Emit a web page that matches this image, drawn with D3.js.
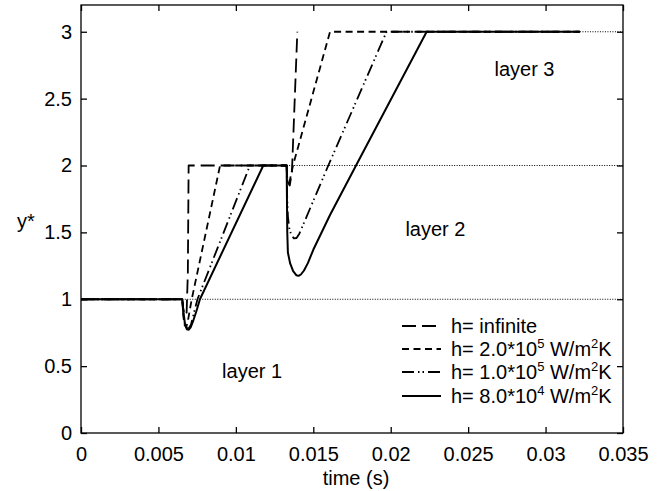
<!DOCTYPE html>
<html>
<head>
<meta charset="utf-8">
<script src="https://cdn.jsdelivr.net/npm/d3@7"></script>
<style>
  body { margin: 0; background: #fff; }
  svg { display: block; font-family: "Liberation Sans", Arial, sans-serif; }
  .axis path, .axis line { stroke: #000; stroke-width: 1.3; }
  .axis text { font-size: 20px; fill: #000; }
  .lbl { font-size: 20px; fill: #000; }
</style>
</head>
<body>
<div id="chart"></div>
<script>
const W = 667, H = 491;
const X0 = 81, X1 = 623, Y0 = 433, Y1 = 5;

const X_TICKS = [0, 0.005, 0.01, 0.015, 0.02, 0.025, 0.03, 0.035];
const X_LABELS = ["0", "0.005", "0.01", "0.015", "0.02", "0.025", "0.03", "0.035"];
const Y_TICKS = [0, 0.5, 1, 1.5, 2, 2.5, 3];
const Y_LABELS = ["0", "0.5", "1", "1.5", "2", "2.5", "3"];

// h = infinite
const tInf = [0, 0.00654, 0.00660, 0.00670, 0.00682, 0.00690, 0.00695, 0.01328, 0.01333, 0.01348, 0.01362, 0.01397];
const yInf = [1, 1, 0.93, 0.88, 0.90, 1.2, 2.0, 2.0, 1.88, 1.85, 1.95, 3.0];
// h = 2.0e5
const t2e5 = [0, 0.00654, 0.00660, 0.00668, 0.00680, 0.00692, 0.00715, 0.00898, 0.01328, 0.01332, 0.01345, 0.01369, 0.01608, 0.0322];
const y2e5 = [1, 1, 0.88, 0.81, 0.79, 0.85, 1.0, 2.0, 2.0, 1.9, 1.87, 2.0, 3.0, 3.0];
// h = 1.0e5
const t1e5 = [0, 0.00654, 0.00660, 0.00670, 0.00682, 0.00694, 0.00710, 0.00730, 0.00752, 0.01091, 0.01328, 0.01331, 0.01336, 0.01345, 0.01358, 0.01375, 0.01392, 0.01410, 0.01597, 0.01973, 0.0322];
const y1e5 = [1, 1, 0.91, 0.82, 0.785, 0.78, 0.81, 0.90, 1.0, 2.0, 2.0, 1.78, 1.62, 1.53, 1.48, 1.455, 1.458, 1.49, 2.0, 3.0, 3.0];
// h = 8.0e4
const t8e4 = [0, 0.00654, 0.00662, 0.00672, 0.00684, 0.00696, 0.00708, 0.00722, 0.00745, 0.00768, 0.01177, 0.01328, 0.01332, 0.01336, 0.01350, 0.01370, 0.01390, 0.01405, 0.01420, 0.01440, 0.01465, 0.01500, 0.01608, 0.01776, 0.02232, 0.03222];
const y8e4 = [1, 1, 0.9, 0.81, 0.775, 0.772, 0.79, 0.83, 0.91, 1.0, 2.0, 2.0, 1.5, 1.35, 1.27, 1.21, 1.18, 1.175, 1.185, 1.215, 1.27, 1.37, 1.63, 2.0, 3.0, 3.0];

// layer interfaces (dotted)
const interfaceY = [1, 2, 3];
const interfaceStart = [0.00654, 0.01328, 0.03222];

const layerNames = ["layer 1", "layer 2", "layer 3"];
const layerT = [0.00911, 0.02095, 0.02670];
const layerY = [0.41, 1.47, 2.67];

const series = [
  { name: "h= infinite", t: tInf, y: yInf, dash: "14,6" },
  { name: "2e5", t: t2e5, y: y2e5, dash: "7,4.5", mant: "2.0", exp: "5" },
  { name: "1e5", t: t1e5, y: y1e5, dash: "12,4,1.5,3,1.5,4", mant: "1.0", exp: "5" },
  { name: "8e4", t: t8e4, y: y8e4, dash: null, mant: "8.0", exp: "4" },
];

const svg = d3.select("#chart").append("svg").attr("width", W).attr("height", H);
const x = d3.scaleLinear().domain([0, 0.035]).range([X0, X1]);
const y = d3.scaleLinear().domain([0, 3.2]).range([Y0, Y1]);

// dotted interface lines
svg.append("g").selectAll("line").data(interfaceY).join("line")
  .attr("x1", (d, i) => x(interfaceStart[i])).attr("x2", x(0.035))
  .attr("y1", d => y(d)).attr("y2", d => y(d))
  .attr("stroke", "#000").attr("stroke-width", 1).attr("stroke-dasharray", "1,1.5");

const line = d3.line().x(d => x(d[0])).y(d => y(d[1]));
svg.append("g").selectAll("path").data(series).join("path")
  .attr("d", s => line(s.t.map((t, i) => [t, s.y[i]])))
  .attr("fill", "none").attr("stroke", "#000")
  .attr("stroke-width", s => s.dash ? 1.8 : 2)
  .attr("stroke-linejoin", "round")
  .attr("stroke-dasharray", s => s.dash);

// axes with inward ticks on all sides
svg.append("g").attr("class", "axis").attr("transform", `translate(0,${Y0})`)
  .call(d3.axisBottom(x).tickValues(X_TICKS).tickFormat((d, i) => X_LABELS[i]).tickSizeInner(-6).tickSizeOuter(0).tickPadding(14));
svg.append("g").attr("class", "axis").attr("transform", `translate(0,${Y1})`)
  .call(d3.axisTop(x).tickValues(X_TICKS).tickFormat("").tickSizeInner(-6).tickSizeOuter(0));
svg.append("g").attr("class", "axis").attr("transform", `translate(${X0},0)`)
  .call(d3.axisLeft(y).tickValues(Y_TICKS).tickFormat((d, i) => Y_LABELS[i]).tickSizeInner(-6).tickSizeOuter(0).tickPadding(9));
svg.append("g").attr("class", "axis").attr("transform", `translate(${X1},0)`)
  .call(d3.axisRight(y).tickValues(Y_TICKS).tickFormat("").tickSizeInner(-6).tickSizeOuter(0));
svg.selectAll(".axis .domain").remove();
svg.append("rect").attr("x", X0).attr("y", Y1).attr("width", X1 - X0).attr("height", Y0 - Y1)
  .attr("fill", "none").attr("stroke", "#000").attr("stroke-width", 1.3);

// axis titles
svg.append("text").attr("class", "lbl").attr("x", (X0 + X1) / 2 + 4).attr("y", 485)
  .attr("text-anchor", "middle").text("time (s)");
svg.append("text").attr("class", "lbl").attr("x", 17).attr("y", 228).text("y*");

// layer labels
svg.append("g").selectAll("text").data(layerNames).join("text").attr("class", "lbl")
  .attr("x", (d, i) => x(layerT[i])).attr("y", (d, i) => y(layerY[i])).text(d => d);

// legend
const legY = [326, 349, 372, 396];
const leg = svg.append("g").selectAll("g").data(series).join("g")
  .attr("transform", (d, i) => `translate(0,${legY[i]})`);
leg.append("line").attr("x1", 402).attr("x2", 441).attr("y1", 0).attr("y2", 0)
  .attr("stroke", "#000").attr("stroke-width", s => s.dash ? 1.8 : 2)
  .attr("stroke-dasharray", s => s.dash);
leg.each(function (s) {
  const t = d3.select(this).append("text").attr("class", "lbl").attr("x", 451).attr("y", 7);
  if (!s.exp) { t.text(s.name); return; }
  t.append("tspan").text(`h= ${s.mant}*10`);
  t.append("tspan").attr("font-size", 13).attr("dy", -8).text(s.exp);
  t.append("tspan").attr("dy", 8).text(" W/m");
  t.append("tspan").attr("font-size", 13).attr("dy", -8).text("2");
  t.append("tspan").attr("dy", 8).text("K");
});
</script>
</body>
</html>
